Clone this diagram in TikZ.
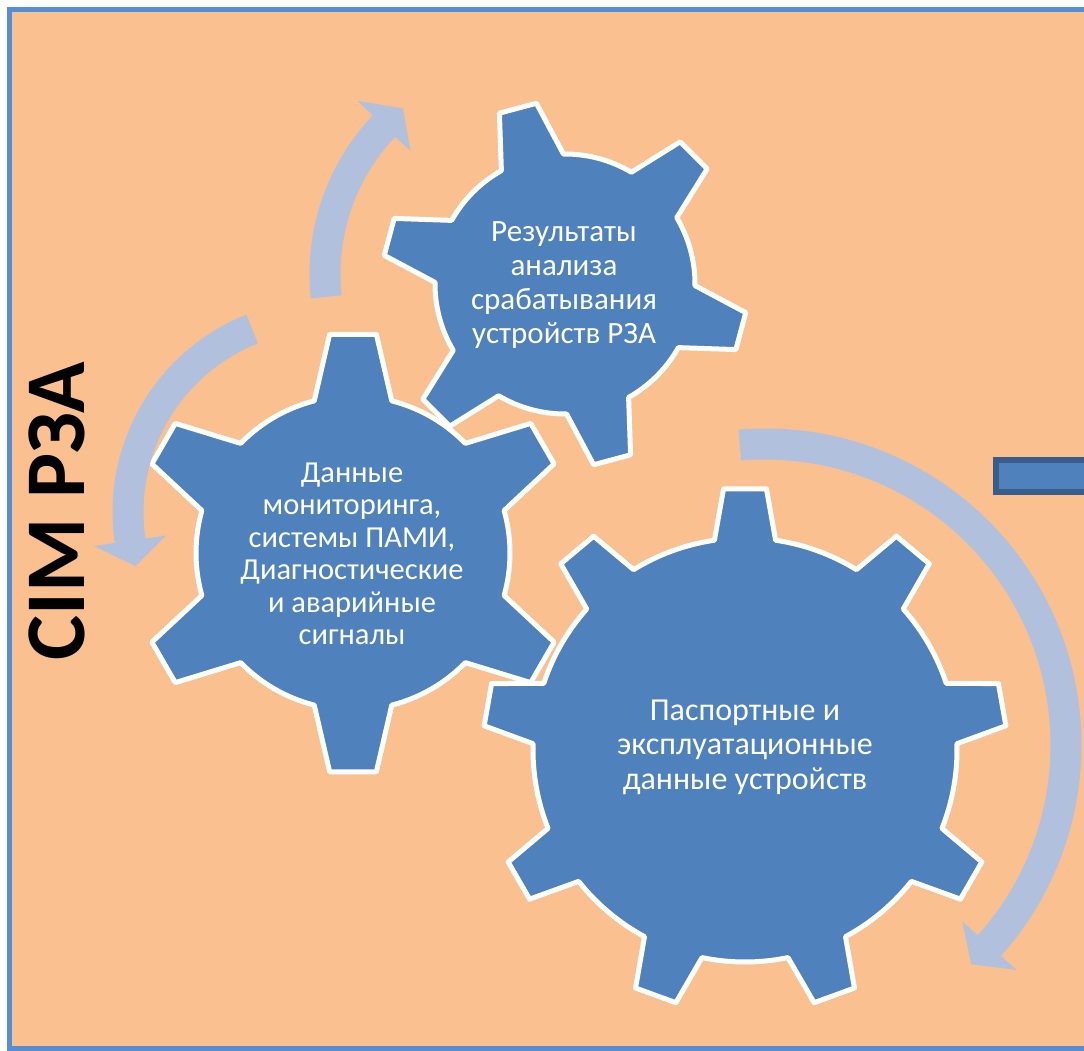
\documentclass[tikz,border=0pt]{standalone}
\usepackage{fontspec}
\setmainfont{Carlito}
\usetikzlibrary{calc}

\definecolor{sheet}{RGB}{250,192,144}
\definecolor{frameblue}{RGB}{85,142,213}
\definecolor{gearblue}{RGB}{79,129,189}
\definecolor{arrowblue}{RGB}{177,193,221}
\definecolor{darkedge}{RGB}{56,93,138}

\tikzset{
  gearshape/.style={fill=gearblue, draw=white, line width=5, line join=round},
  arrowband/.style={fill=arrowblue},
  geartext/.style={text=white, align=center, font=\fontsize{31}{34}\selectfont},
}

% gear: centre x, centre y, body radius, tip radius, teeth, first tooth angle,
% half-angle of the tooth at its root, half-angle of the tooth at its tip
\newcommand\drawgear[8]{%
  \pgfmathsetmacro\gstep{360/#5}%
  \pgfmathtruncatemacro\glast{#5-1}%
  \draw[gearshape, shift={(#1,#2)}] ({#6-#7}:#3)
    \foreach \k [evaluate=\k as \t using #6+\k*\gstep] in {0,...,\glast} {
      -- ({\t-#8}:#4) -- ({\t+#8}:#4) -- ({\t+#7}:#3)
      arc[start angle=\t+#7, end angle=\t+\gstep-#7, radius=#3]
    } -- cycle;
}

% curved band with a broad arrow head: centre x, centre y, mid radius,
% start angle, angle of the head base, angle of the tip
\newcommand\bandarrow[6]{%
  \fill[arrowband, shift={(#1,#2)}]
    ({#4}:{#3+15.5}) arc[start angle=#4, end angle=#5, radius=#3+15.5]
    -- ({#5}:{#3+36.5}) -- ({#6}:{#3}) -- ({#5}:{#3-36.5})
    -- ({#5}:{#3-15.5}) arc[start angle=#5, end angle=#4, radius=#3-15.5]
    -- cycle;
}

\begin{document}
\begin{tikzpicture}[x=1pt,y=-1pt]
\useasboundingbox (0,0) rectangle (1084,1051);
\clip (0,0) rectangle (1084,1051);
\fill[white] (0,0) rectangle (1084,1051);

% sheet with its frame (right side runs past the edge)
\filldraw[fill=sheet, draw=frameblue, line width=5] (9.5,9.5) rectangle (1150,1048.5);

% small bar on the right edge
\filldraw[fill=gearblue, draw=darkedge, line width=5.5] (996,460) rectangle (1150,492);

% gears
\drawgear{565}{284}{130}{183}{6}{-105}{14.3}{6.0}
\drawgear{745}{750}{212}{262}{9}{-90}{8.3}{4.7}
\drawgear{353}{553}{157}{220}{6}{-90}{14.3}{6.1}

% rotation arrows
\bandarrow{540}{274}{215}{-186.1}{-136.5}{-129.6}
\bandarrow{325}{512}{197}{-111.7}{-188.4}{-195.96}
\bandarrow{765}{745}{301}{-94.8}{41.8}{46.75}

% labels
\node[geartext] (tsmall) at (564,285) {Результаты\\анализа\\срабатывания\\устройств РЗА};
\node[geartext, font=\fontsize{30.5}{32.5}\selectfont] (tmid) at (352,554) {Данные\\мониторинга,\\системы ПАМИ,\\Диагностические\\и аварийные\\сигналы};
\node[geartext, font=\fontsize{32}{34.5}\selectfont] (tbig) at (745,747) {Паспортные и\\эксплуатационные\\данные устройств};
\node[rotate=90, font=\fontsize{85}{90}\selectfont\bfseries] (title) at (57,511) {CIM РЗА};
\end{tikzpicture}
\end{document}
